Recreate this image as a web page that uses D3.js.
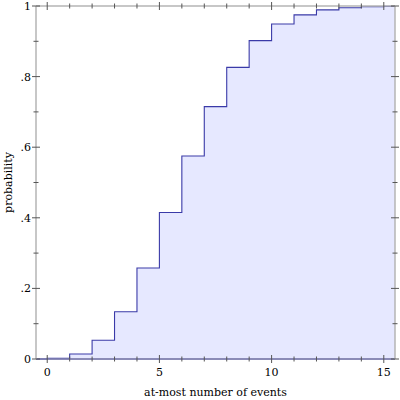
<!DOCTYPE html>
<html>
<head>
<meta charset="utf-8">
<script src="https://cdn.jsdelivr.net/npm/d3@7"></script>
<style>
  body { margin: 0; background: #fff; }
  svg text { font-family: "DejaVu Serif", serif; font-size: 11px; fill: #000; }
</style>
</head>
<body>
<div id="chart"></div>
<script>
// at-most k events -> cumulative probability
var events = [0, 1, 2, 3, 4, 5, 6, 7, 8, 9, 10, 11, 12, 13, 14, 15];
var cumProb = [0.002, 0.014, 0.053, 0.134, 0.258, 0.415, 0.575, 0.715, 0.826, 0.902,
               0.949, 0.975, 0.989, 0.995, 0.998, 0.999];
var xMajor = [0, 5, 10, 15];
var yMajor = [0, 0.2, 0.4, 0.6, 0.8, 1];
var yLabels = ["0", ".2", ".4", ".6", ".8", "1"];

var width = 400, height = 400;
var margin = { top: 6, right: 5, bottom: 41, left: 36 };

var svg = d3.select("#chart").append("svg")
  .attr("width", width)
  .attr("height", height);

var x = d3.scaleLinear().domain([-0.5, 15.5]).range([margin.left, width - margin.right]);
var y = d3.scaleLinear().domain([0, 1]).range([height - margin.bottom, margin.top]);

// step points: 0 before the first event, then hold each value to the right
var pts = [[-0.5, 0]];
events.forEach(function(k, i) { pts.push([k, cumProb[i]]); });
pts.push([15.5, cumProb[cumProb.length - 1]]);

var area = d3.area()
  .curve(d3.curveStepAfter)
  .x(function(d) { return x(d[0]); })
  .y0(y(0))
  .y1(function(d) { return y(d[1]); });

var line = d3.line()
  .curve(d3.curveStepAfter)
  .x(function(d) { return x(d[0]); })
  .y(function(d) { return y(d[1]); });

svg.append("path")
  .attr("d", area(pts))
  .attr("fill", "#e6e8ff");

// bottom edge of the interval
svg.append("line")
  .attr("x1", x(-0.5)).attr("x2", x(15.5))
  .attr("y1", y(0)).attr("y2", y(0))
  .attr("stroke", "#6a6ab8").attr("stroke-width", 2);

svg.append("path")
  .attr("d", line(pts))
  .attr("fill", "none")
  .attr("stroke", "#3a3aa8")
  .attr("stroke-width", 1.1);

// frame
var x0 = x(-0.5), x1 = x(15.5), y0 = y(0), y1 = y(1);
var frame = svg.append("g").attr("stroke", "#b4b4b4").attr("stroke-width", 1.5);
frame.append("line").attr("x1", x0).attr("x2", x0).attr("y1", y0).attr("y2", y1);
frame.append("line").attr("x1", x1).attr("x2", x1).attr("y1", y0).attr("y2", y1);
frame.append("line").attr("x1", x0).attr("x2", x1).attr("y1", y1).attr("y2", y1);
frame.append("line").attr("x1", x0).attr("x2", x1).attr("y1", y0).attr("y2", y0).attr("stroke-opacity", 0.6);

// ticks
var ticks = svg.append("g").attr("stroke", "#555").attr("stroke-width", 1);
d3.range(0, 16).forEach(function(k) {
  var len = xMajor.indexOf(k) >= 0 ? 4 : 2.5;
  ticks.append("line").attr("x1", x(k)).attr("x2", x(k)).attr("y1", y0 - len).attr("y2", y0 + len);
  ticks.append("line").attr("x1", x(k)).attr("x2", x(k)).attr("y1", y1 - len).attr("y2", y1 + len);
});
d3.range(0, 11).forEach(function(i) {
  var v = i / 10;
  var len = i % 2 === 0 ? 4 : 2.5;
  ticks.append("line").attr("x1", x0 - len).attr("x2", x0 + len).attr("y1", y(v)).attr("y2", y(v));
  ticks.append("line").attr("x1", x1 - len).attr("x2", x1 + len).attr("y1", y(v)).attr("y2", y(v));
});

// tick labels
svg.selectAll(".xl").data(xMajor).enter().append("text")
  .attr("x", function(d) { return x(d); })
  .attr("y", y0 + 17)
  .attr("text-anchor", "middle")
  .text(function(d) { return d; });

svg.selectAll(".yl").data(yMajor).enter().append("text")
  .attr("x", x0 - 5)
  .attr("y", function(d) { return y(d) + 4; })
  .attr("text-anchor", "end")
  .text(function(d, i) { return yLabels[i]; });

// axis titles
svg.append("text")
  .attr("x", (x0 + x1) / 2)
  .attr("y", 396)
  .attr("text-anchor", "middle")
  .text("at-most number of events");

svg.append("text")
  .attr("transform", "translate(12," + ((y0 + y1) / 2) + ") rotate(-90)")
  .attr("text-anchor", "middle")
  .text("probability");
</script>
</body>
</html>
